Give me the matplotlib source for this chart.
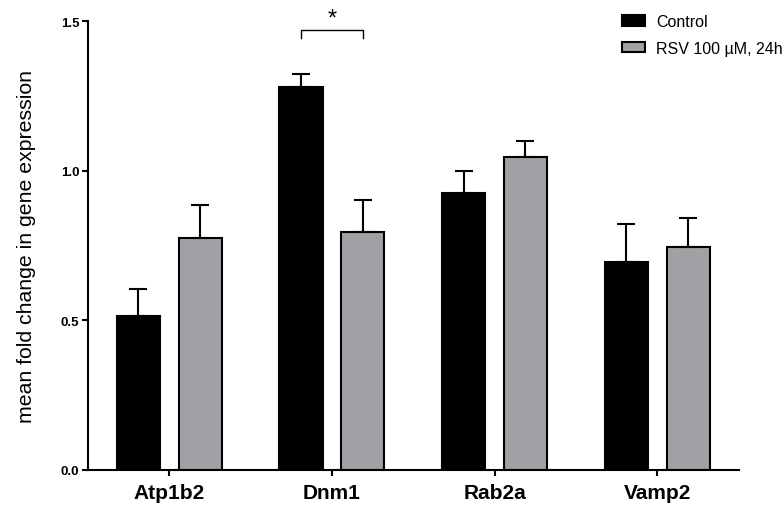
import matplotlib
matplotlib.use("Agg")
import matplotlib.pyplot as plt
import numpy as np

plt.rcParams['font.family'] = ['Liberation Sans', 'DejaVu Sans']

genes = ["Atp1b2", "Dnm1", "Rab2a", "Vamp2"]
control_mean = [0.513, 1.279, 0.925, 0.693]
control_err  = [0.092, 0.043, 0.072, 0.128]
rsv_mean     = [0.773, 0.795, 1.047, 0.746]
rsv_err      = [0.113, 0.105, 0.053, 0.095]
series_names = ["Control", "RSV 100 \u00b5M, 24h"]

color_ctrl = "black"
color_rsv  = "#a1a0a5"

fig = plt.figure(figsize=(7.84, 5.06), dpi=100)
ax = fig.add_axes([0.1122, 0.0698, 0.8308, 0.8867])

x = np.arange(len(genes))
w = 0.265
off = 0.19
lw = 1.5

ax.bar(x - off, control_mean, w, color=color_ctrl, edgecolor="black", linewidth=lw,
       yerr=[np.zeros(len(genes)), control_err], capsize=6.8,
       error_kw=dict(elinewidth=lw, capthick=lw, ecolor="black"), label=series_names[0])
ax.bar(x + off, rsv_mean, w, color=color_rsv, edgecolor="black", linewidth=lw,
       yerr=[np.zeros(len(genes)), rsv_err], capsize=6.8,
       error_kw=dict(elinewidth=lw, capthick=lw, ecolor="black"), label=series_names[1])

# significance bracket over Dnm1
bx = [1 - off, 1 - off, 1 + off, 1 + off]
by = [1.442, 1.469, 1.469, 1.442]
ax.plot(bx, by, color="black", linewidth=1.0, clip_on=False)
ax.text(1, 1.47, "*", ha="center", va="bottom", fontsize=17, clip_on=False)

ax.set_xlim(-0.5, 3.505)
ax.set_ylim(0, 1.5)
ax.set_xticks(x)
ax.set_xticklabels(genes, fontsize=15, fontweight="bold")
ax.set_yticks([0.0, 0.5, 1.0, 1.5])
ax.set_yticklabels(["0.0", "0.5", "1.0", "1.5"], fontsize=9.5, fontweight="bold")
ax.set_ylabel("mean fold change in gene expression", fontsize=15.3, labelpad=18)

for s in ["top", "right"]:
    ax.spines[s].set_visible(False)
for s in ["left", "bottom"]:
    ax.spines[s].set_linewidth(lw)
ax.tick_params(axis="both", width=lw, length=4.3, pad=2)
ax.tick_params(axis="x", pad=5)

ax.legend(loc="upper left", bbox_to_anchor=(0.793, 0.97), bbox_transform=fig.transFigure,
          frameon=False, fontsize=11.5, handlelength=1.45, handleheight=0.65,
          handletextpad=0.7, labelspacing=0.72, borderpad=0, borderaxespad=0)

fig.savefig("out.png", dpi=100)
